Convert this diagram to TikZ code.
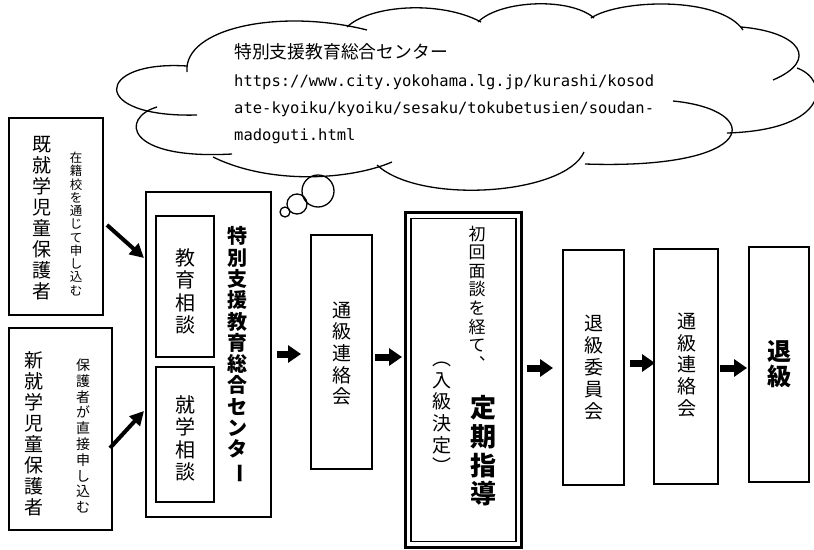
\documentclass[tikz,border=0pt]{standalone}
\usepackage{fontspec}
\usepackage{graphicx}
\usetikzlibrary{arrows.meta}
\newfontfamily\jp{Noto Sans CJK JP}
\newfontfamily\urlf{DejaVu Sans Mono}
\newcommand{\vbar}{\rotatebox[origin=c]{-90}{ー}}
\tikzset{
  box/.style={draw, line width=1.6pt, inner sep=0pt, outer sep=0pt},
  vt/.style 2 args={align=center, inner sep=0pt, font={\jp\fontsize{#1}{#2}\selectfont}},
  vtb/.style 2 args={align=center, inner sep=0pt, font={\jp\bfseries\fontsize{#1}{#2}\selectfont}},
  blockarrow/.style={line width=7pt, -{Triangle[length=13pt,width=17pt]}},
  diagarrow/.style={line width=4pt, -{Triangle[length=14pt,width=14pt]}},
  cloudline/.style={line width=1.3pt},
  urltext/.style={anchor=base west, inner sep=0pt, font={\urlf\fontsize{15.5pt}{18pt}\selectfont}},
}
\begin{document}
\begin{tikzpicture}[x=1pt,y=-1pt]
\useasboundingbox (0,0) rectangle (814,549);
\fill[white] (0,0) rectangle (814,549);

% cloud
\draw[cloudline] (197,115) .. controls (88,118) and (95,60) .. (187,66);
\draw[cloudline] (187,72) .. controls (183,28) and (280,8) .. (367,30);
\draw[cloudline] (347,27) .. controls (370,5) and (440,0) .. (481,22);
\draw[cloudline] (478,22) .. controls (500,0) and (570,-3) .. (594,18);
\draw[cloudline] (591,18) .. controls (620,-1) and (720,-4) .. (743,30);
\draw[cloudline] (741,27) .. controls (800,32) and (820,60) .. (773,80);
\draw[cloudline] (797,68) .. controls (830,80) and (830,130) .. (727,133);
\draw[cloudline] (673,101) .. controls (765,110) and (760,170) .. (585,164);
\draw[cloudline] (584,152) .. controls (565,195) and (420,205) .. (377,165);
\draw[cloudline] (213,157) .. controls (270,185) and (350,180) .. (392,162);
\draw[cloudline] (157,107) .. controls (120,118) and (125,160) .. (232,154);
% thought bubbles
\draw[cloudline] (318,191) circle[radius=16pt];
\draw[cloudline] (297,204) circle[radius=10pt];
\draw[cloudline] (285,212) circle[radius=5pt];

% cloud text
\node[anchor=base west, inner sep=0pt, font={\jp\fontsize{17.8pt}{20pt}\selectfont}] (ctitle) at (234,58) {特別支援教育総合センター};
\node[urltext] (url1) at (234,86) {https://www.city.yokohama.lg.jp/kurashi/kosod};
\node[urltext] (url2) at (234,113) {ate-kyoiku/kyoiku/sesaku/tokubetusien/soudan-};
\node[urltext] (url3) at (234,140) {madoguti.html};

% left boxes
\node[box, minimum width=94pt, minimum height=197pt] (bA) at (56,216.5) {};
\node[vt={19pt}{21.1pt}] (tA) at (42,218) {既\\就\\学\\児\\童\\保\\護\\者};
\node[vt={12.5pt}{13.25pt}] (tA2) at (76,224) {在\\籍\\校\\を\\通\\じ\\て\\申\\し\\込\\む};

\node[box, minimum width=103pt, minimum height=202pt] (bB) at (60.5,429) {};
\node[vt={19pt}{21pt}] (tB) at (34,433.5) {新\\就\\学\\児\\童\\保\\護\\者};
\node[vt={14pt}{15.8pt}] (tB2) at (83,436) {保\\護\\者\\が\\直\\接\\申\\し\\込\\む};

% center box
\node[box, minimum width=125pt, minimum height=325pt] (bC) at (208.5,354.5) {};
\node[box, minimum width=58pt, minimum height=141pt] (bC1) at (185,286.5) {};
\node[box, minimum width=58pt, minimum height=135pt] (bC2) at (185,434.5) {};
\node[vt={20pt}{22.3pt}] (tC1) at (185,291.5) {教\\育\\相\\談};
\node[vt={20pt}{22.3pt}] (tC2) at (185,438.5) {就\\学\\相\\談};
\node[vtb={20pt}{21.3pt}] (tC) at (237,355) {特\\別\\支\\援\\教\\育\\総\\合\\セ\\ン\\タ\\\vbar};

% tsukyu renrakukai 1
\node[box, minimum width=61pt, minimum height=234pt] (bD) at (341.5,352) {};
\node[vt={19pt}{21.7pt}] (tD) at (342,353.5) {通\\級\\連\\絡\\会};

% double box
\node[draw, line width=3pt, inner sep=0pt, minimum width=116pt, minimum height=335pt] (bE) at (463,379.5) {};
\node[draw, line width=1.5pt, inner sep=0pt, minimum width=105pt, minimum height=323pt] (bEi) at (463.5,380) {};
\node[vt={17pt}{18.6pt}] (tE1) at (477,298) {初\\回\\面\\談\\を\\経\\て\\︑};
\node[vt={19pt}{21.6pt}] (tE2) at (442,418) {︵\\入\\級\\決\\定\\︶};
\node[vtb={26pt}{28.7pt}] (tE3) at (483,451) {定\\期\\指\\導};

% right boxes
\node[box, minimum width=61pt, minimum height=235pt] (bF) at (593.5,367.5) {};
\node[vt={19pt}{22pt}] (tF) at (594,367.5) {退\\級\\委\\員\\会};
\node[box, minimum width=64pt, minimum height=235pt] (bG) at (686,366.5) {};
\node[vt={19pt}{21.6pt}] (tG) at (687,365) {通\\級\\連\\絡\\会};
\node[box, minimum width=60pt, minimum height=235pt] (bH) at (779,364.5) {};
\node[vtb={24pt}{25pt}] (tH) at (779,364.5) {退\\級};

% arrows
\coordinate (d1s) at (107,225); \coordinate (d1e) at (144,258);
\coordinate (d2s) at (110,448); \coordinate (d2e) at (144,411);
\draw[diagarrow] (d1s) -- (d1e);
\draw[diagarrow] (d2s) -- (d2e);
\coordinate (a1s) at (277,354); \coordinate (a1e) at (301,354);
\coordinate (a2s) at (375,357); \coordinate (a2e) at (402,357);
\coordinate (a3s) at (527,368); \coordinate (a3e) at (553,368);
\coordinate (a4s) at (630,363); \coordinate (a4e) at (655,363);
\coordinate (a5s) at (720,368); \coordinate (a5e) at (747,368);
\draw[blockarrow] (a1s) -- (a1e);
\draw[blockarrow] (a2s) -- (a2e);
\draw[blockarrow] (a3s) -- (a3e);
\draw[blockarrow] (a4s) -- (a4e);
\draw[blockarrow] (a5s) -- (a5e);
\end{tikzpicture}
\end{document}
